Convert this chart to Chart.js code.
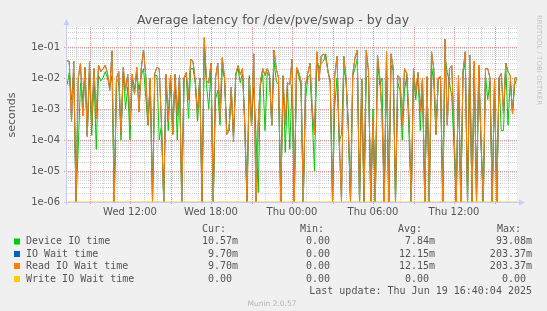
<!DOCTYPE html>
<html>
<head>
<meta charset="utf-8">
<script src="https://cdn.jsdelivr.net/npm/chart.js@4.4.1/dist/chart.umd.min.js"></script>
<style>
  html, body { margin: 0; padding: 0; background: #f0f0f0; }
  canvas { display: block; }
</style>
</head>
<body>
<canvas id="latencyChart" width="547" height="311"></canvas>
<script>
// time axis, hours since Wed 00:00, one sample every 10 minutes
const startHour = 7 + 20 / 60;   // Wed 07:20
const stepHour = 10 / 60;
const tickHours = [12, 18, 24, 30, 36];
const tickLabels = ['Wed 12:00', 'Wed 18:00', 'Thu 00:00', 'Thu 06:00', 'Thu 12:00'];
const yTicks = [1e-6, 1e-5, 1e-4, 1e-3, 1e-2, 1e-1];
const yFloor = 1e-6;

// seconds
const deviceIO = [
  0.006, 0.015, 0.002, 0.014, 0, 6e-5, 0.007, 0.002, 0.02, 1.5e-4,
  0.016, 1.4e-4, 0.012, 5e-5, 0.012, 0.008, 0.01, 0.016, 0.01, 0.005,
  0.012, 0, 0.01, 0.007, 1e-4, 0.016, 0.001, 0.005, 1e-4, 0.01,
  0.004, 0.013, 0.004, 0.012, 0.02, 0.0025, 3e-4, 0.008, 0, 0.012,
  0.012, 1e-4, 3e-4, 0, 0.01, 2e-4, 0.012, 1.6e-4, 0.012, 1e-4,
  0.011, 0, 0.01, 0.012, 5e-4, 0.02, 0.02, 0.007, 4e-4, 0.01,
  0, 0.09, 0.006, 0.001, 0.02, 0, 0.002, 0.004, 3e-4, 0.02,
  0.01, 2e-4, 2e-4, 0.004, 1.3e-4, 0.012, 0.02, 0.007, 0.015, 4e-4,
  0, 0.012, 3e-4, 0.005, 1.5e-4, 2e-6, 0.006, 0.013, 2e-4, 0.015,
  0.011, 3e-4, 0.035, 0.008, 0.006, 0, 0.012, 4e-5, 0.006, 5e-5,
  0.006, 0, 0.02, 0.011, 0.006, 0, 0.002, 0.01, 0.013, 5e-4,
  1e-5, 0.04, 0.02, 0.03, 0.035, 0.06, 0.016, 0.007, 0, 0.0012,
  0.01, 9e-5, 1.5e-4, 0.02, 0.008, 3e-4, 0, 0.012, 0.02, 0.04,
  0, 0.008, 0, 0.01, 0.012, 0, 0.001, 0, 0.04, 0.006,
  0.01, 0, 0.02, 0, 0.025, 0.018, 0, 0.007, 0.004, 1e-4,
  0.004, 0.012, 1.5e-4, 0, 0.016, 0.002, 0.013, 2e-4, 0.008, 0,
  0.01, 0, 0.025, 0.007, 1.5e-4, 0.009, 0.01, 0, 0.05, 0.015,
  0.007, 0.0025, 6e-5, 0, 0.012, 0, 0.015, 0.03, 0, 0.025,
  0, 0.025, 0, 0.022, 9e-5, 0, 0.012, 0.002, 0.008, 0,
  0.008, 0, 0.01, 2e-4, 2e-4, 0.03, 3e-4, 0.008, 7e-4, 0.006,
  0.01057
];

const readWait = [
  0.036, 0.034, 4e-4, 0.035, 0, 0.01, 0.03, 6e-4, 0.022, 1.3e-4,
  0.034, 3e-4, 0.02, 5e-4, 0.026, 0.016, 0.02, 0.026, 0.014, 0.004,
  0.075, 0, 0.01, 0.016, 1.5e-4, 0.022, 0.004, 0.013, 3e-4, 0.013,
  0.003, 0.022, 8e-4, 0.02, 0.08, 0.012, 3e-4, 0.01, 0, 0.014,
  0.022, 0.02, 3e-4, 0, 0.013, 4e-4, 0.012, 1.5e-4, 0.013, 6e-4,
  0.012, 0, 0.01, 0.015, 0.002, 0.04, 0.034, 0.008, 7e-4, 0.01,
  0, 0.2, 0.008, 0.007, 0.03, 0, 0.01, 0.03, 5e-4, 0.045,
  0.01, 1.5e-4, 2e-4, 0.005, 9e-5, 0.013, 0.025, 0.013, 0.02, 3e-4,
  0, 0.01, 3e-4, 0.06, 0, 4e-4, 0.008, 0.02, 0.012, 0.02,
  0.013, 3e-4, 0.08, 0.02, 0.01, 0, 0.011, 3e-4, 0.007, 0.006,
  0.04, 0, 0.022, 0.015, 0.008, 0, 0.006, 0.014, 0.03, 9e-4,
  1.5e-4, 0.07, 0.008, 0.05, 0.06, 0.045, 0.016, 0.008, 0, 0.012,
  0.05, 9e-5, 0, 0.05, 0.01, 3e-4, 0, 0.013, 0.045, 0.08,
  0, 0.009, 0, 0.08, 0.016, 0, 5e-4, 0, 0.055, 0.01,
  7e-4, 0, 0.07, 0, 0.06, 0.02, 0, 0.012, 0.01, 3e-4,
  0.02, 0.014, 5e-4, 0, 0.02, 0.003, 0.015, 8e-4, 0.01, 0,
  0.011, 0, 0.07, 0.02, 1.5e-4, 0.01, 0.011, 0, 0.18, 3e-4,
  0.02, 0.025, 2e-4, 0, 0.011, 0, 0.016, 0.07, 0, 0.055,
  0, 0.035, 0, 0.026, 9e-5, 0, 0.02, 0.02, 0.01, 0,
  0.009, 0, 0.01, 0.014, 7e-4, 0.03, 0.016, 0.012, 7e-4, 0.01,
  0.0097
];
// IO wait equals read wait here, writes never waited
const ioWait = readWait.slice();
const writeWait = readWait.map(() => 0);

const seriesNames = ['Device IO time', 'IO Wait time', 'Read IO Wait time', 'Write IO Wait time'];
const seriesColors = ['#00cc00', '#0066b3', '#ff8000', '#ffcc00'];
const curVals = ['10.57m', '9.70m', '9.70m', '0.00 '];
const minVals = ['0.00 ', '0.00 ', '0.00 ', '0.00 '];
const avgVals = ['7.84m', '12.15m', '12.15m', '0.00 '];
const maxVals = ['93.08m', '203.37m', '203.37m', '0.00 '];

// log axis cannot show 0, rrdtool pins it to the bottom of the graph
function toPoints(arr) {
  return arr.map((v, i) => ({ x: startHour + i * stepHour, y: v > 0 ? v : yFloor }));
}

const muninLook = {
  id: 'muninLook',
  beforeDraw(chart) {
    const c = chart.ctx, a = chart.chartArea;
    c.save();
    c.fillStyle = '#f0f0f0';
    c.fillRect(0, 0, chart.width, chart.height);
    c.fillStyle = '#ffffff';
    c.fillRect(a.left, a.top, a.right - a.left, a.bottom - a.top);
    c.restore();
  },
  beforeDatasetsDraw(chart) {
    const c = chart.ctx, a = chart.chartArea;
    const xs = chart.scales.x, ys = chart.scales.y;
    c.save();
    c.lineWidth = 1;
    c.setLineDash([1, 1]);
    // horizontal grid
    for (let e = -6; e <= -1; e++) {
      for (let m = 1; m <= 9; m++) {
        const v = m * Math.pow(10, e);
        if (v > ys.max) break;
        const py = Math.round(ys.getPixelForValue(v)) + 0.5;
        c.strokeStyle = m === 1 ? 'rgba(225,110,110,0.75)' : 'rgba(185,185,185,0.65)';
        c.beginPath();
        c.moveTo(a.left - (m === 1 ? 3 : 1), py);
        c.lineTo(a.right, py);
        c.stroke();
      }
    }
    // vertical grid, every hour, red every 3 hours
    for (let h = Math.ceil(xs.min); h <= xs.max; h++) {
      const major = h % 3 === 0;
      const px = Math.round(xs.getPixelForValue(h)) + 0.5;
      c.strokeStyle = major ? 'rgba(225,110,110,0.75)' : 'rgba(185,185,185,0.65)';
      c.beginPath();
      c.moveTo(px, a.top);
      c.lineTo(px, a.bottom + (major ? 3 : 1));
      c.stroke();
    }
    // axes
    c.setLineDash([]);
    c.strokeStyle = '#c8ccf2';
    c.beginPath();
    c.moveTo(a.left - 0.5, a.bottom + 3);
    c.lineTo(a.left - 0.5, a.top - 4);
    c.moveTo(a.left - 3, a.bottom + 0.5);
    c.lineTo(a.right + 3, a.bottom + 0.5);
    c.stroke();
    c.fillStyle = '#c8ccf2';
    c.beginPath();
    c.moveTo(a.left - 3.5, a.top - 2);
    c.lineTo(a.left + 2.5, a.top - 2);
    c.lineTo(a.left - 0.5, a.top - 8);
    c.closePath();
    c.fill();
    c.beginPath();
    c.moveTo(a.right + 2, a.bottom - 2.5);
    c.lineTo(a.right + 2, a.bottom + 3.5);
    c.lineTo(a.right + 8, a.bottom + 0.5);
    c.closePath();
    c.fill();
    c.restore();
  },
  afterDraw(chart) {
    const c = chart.ctx;
    c.save();
    // title
    c.fillStyle = '#555';
    c.font = '12.5px "DejaVu Sans"';
    c.textAlign = 'center';
    c.textBaseline = 'middle';
    c.fillText('Average latency for /dev/pve/swap - by day', 273, 21);
    // y axis title
    c.font = '11px "DejaVu Sans"';
    c.translate(12, 115);
    c.rotate(-Math.PI / 2);
    c.fillText('seconds', 0, 0);
    c.setTransform(1, 0, 0, 1, 0, 0);
    // rrdtool credit
    c.fillStyle = '#c4c4c4';
    c.font = '7px "DejaVu Sans"';
    c.translate(539, 15);
    c.rotate(Math.PI / 2);
    c.textAlign = 'left';
    c.fillText('RRDTOOL / TOBI OETIKER', 0, 0);
    c.setTransform(1, 0, 0, 1, 0, 0);
    // legend
    c.font = '10px "DejaVu Sans Mono"';
    c.fillStyle = '#555';
    c.textAlign = 'left';
    const heads = ['Cur:', 'Min:', 'Avg:', 'Max:'];
    const headX = [202, 300, 398, 497];
    heads.forEach((h, i) => c.fillText(h, headX[i], 229));
    const rowY = [241.5, 254, 266, 279];
    const colEnd = [238, 336, 435, 532];
    seriesNames.forEach((name, i) => {
      c.fillStyle = seriesColors[i];
      c.fillRect(14, rowY[i] - 3, 6, 6);
      c.fillStyle = '#555';
      c.textAlign = 'left';
      c.fillText(name, 26, rowY[i]);
      c.textAlign = 'right';
      [curVals, minVals, avgVals, maxVals].forEach((col, j) => {
        c.fillText(col[i], colEnd[j], rowY[i]);
      });
    });
    c.textAlign = 'right';
    c.fillText('Last update: Thu Jun 19 16:40:04 2025', 532, 291.5);
    c.textAlign = 'center';
    c.fillStyle = '#b4b4b4';
    c.font = '7.5px "DejaVu Sans"';
    c.fillText('Munin 2.0.57', 272, 304);
    c.restore();
  }
};

const ctx = document.getElementById('latencyChart').getContext('2d');
const chart = new Chart(ctx, {
  type: 'line',
  data: {
    datasets: [
      { label: seriesNames[0], data: toPoints(deviceIO), borderColor: seriesColors[0], order: 3 },
      { label: seriesNames[1], data: toPoints(ioWait), borderColor: seriesColors[1], order: 2 },
      { label: seriesNames[2], data: toPoints(readWait), borderColor: seriesColors[2], order: 1 },
      { label: seriesNames[3], data: toPoints(writeWait), borderColor: seriesColors[3], order: 0 }
    ]
  },
  options: {
    responsive: false,
    animation: false,
    events: [],
    layout: { padding: { left: 0, right: 30, top: 27, bottom: 89 } },
    elements: {
      point: { radius: 0 },
      line: { borderWidth: 1, tension: 0, fill: false }
    },
    plugins: {
      legend: { display: false },
      tooltip: { enabled: false },
      title: { display: false }
    },
    scales: {
      x: {
        type: 'linear',
        min: startHour,
        max: startHour + (readWait.length - 1) * stepHour,
        grid: { display: false, drawTicks: false },
        border: { display: false },
        afterBuildTicks: s => { s.ticks = tickHours.map(v => ({ value: v })); },
        afterFit: s => { s.height = 20; },
        ticks: {
          autoSkip: false,
          maxRotation: 0,
          padding: 4,
          color: '#555',
          font: { family: 'DejaVu Sans', size: 10 },
          callback: (v, i) => tickLabels[i]
        }
      },
      y: {
        type: 'logarithmic',
        min: yFloor,
        max: 0.44,
        grid: { display: false, drawTicks: false },
        border: { display: false },
        afterBuildTicks: s => { s.ticks = yTicks.map(v => ({ value: v })); },
        afterFit: s => { s.width = 67; },
        ticks: {
          padding: 7,
          color: '#555',
          font: { family: 'DejaVu Sans', size: 10 },
          callback: v => {
            const e = Math.round(Math.log10(v));
            return '1e' + (e < 0 ? '-' : '+') + String(Math.abs(e)).padStart(2, '0');
          }
        }
      }
    }
  },
  plugins: [muninLook]
});
</script>
</body>
</html>
